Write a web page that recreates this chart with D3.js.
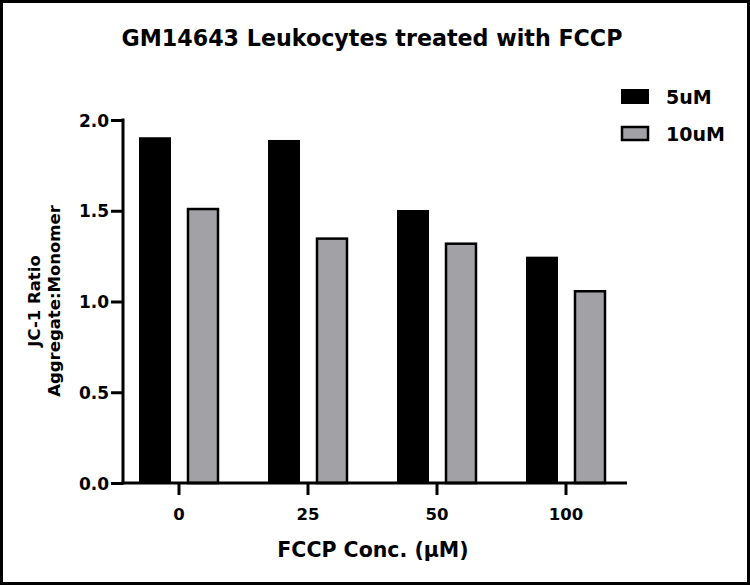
<!DOCTYPE html>
<html>
<head>
<meta charset="utf-8">
<script src="https://cdn.jsdelivr.net/npm/d3@7"></script>
<style>
  html, body { margin: 0; padding: 0; background: #fff; }
  svg { display: block; }
  text { font-family: "DejaVu Sans", sans-serif; fill: #000; }
</style>
</head>
<body>
<svg id="chart"></svg>
<script>
// GM14643 leukocytes, JC-1 aggregate:monomer ratio after FCCP treatment.
const concentrations = ['0', '25', '50', '100'];
const seriesNames = ['5uM', '10uM'];
const ratio5uM = [1.905, 1.89, 1.504, 1.247];
const ratio10uM = [1.515, 1.352, 1.324, 1.062];
const yTicks = [0, 0.5, 1.0, 1.5, 2.0];

const W = 750, H = 585;
const svg = d3.select('#chart').attr('width', W).attr('height', H);

// outer frame
svg.append('rect').attr('x', 1.5).attr('y', 1.5).attr('width', W - 3).attr('height', H - 3)
  .attr('fill', '#fff').attr('stroke', '#000').attr('stroke-width', 3);

const axisLeft = 123, axisRight = 627, axisBottom = 483, axisTop = 120;
const y = d3.scaleLinear().domain([0, 2]).range([axisBottom, axisTop]);
const x0 = d3.scaleBand().domain(concentrations).range([114.5, 630.5])
  .paddingInner(0.38).paddingOuter(0.19);
const x1 = d3.scaleBand().domain(seriesNames).range([0, x0.bandwidth()]).paddingInner(1 / 3);

const fills = { '5uM': '#000', '10uM': '#a2a2a6' };
const rows = concentrations.map((c, i) => ({ c, values: [
  { s: '5uM', v: ratio5uM[i] }, { s: '10uM', v: ratio10uM[i] }
] }));

// bars (grey ones get an inset black outline)
const g = svg.append('g');
g.selectAll('g.grp').data(rows).enter().append('g')
  .attr('transform', d => `translate(${x0(d.c)},0)`)
  .selectAll('rect').data(d => d.values).enter().append('rect')
  .attr('x', d => x1(d.s) + (d.s === '10uM' ? 1 : 0))
  .attr('y', d => y(d.v) + (d.s === '10uM' ? 1 : 0))
  .attr('width', d => x1.bandwidth() - (d.s === '10uM' ? 2 : 0))
  .attr('height', d => axisBottom - y(d.v) - (d.s === '10uM' ? 1 : 0))
  .attr('fill', d => fills[d.s])
  .attr('stroke', d => d.s === '10uM' ? '#000' : 'none')
  .attr('stroke-width', 2.5);

// y axis
const yAxis = svg.append('g').attr('transform', `translate(${axisLeft},0)`)
  .call(d3.axisLeft(y).tickValues(yTicks).tickFormat(d3.format('.1f')).tickSize(12).tickPadding(2));
yAxis.select('.domain').remove();
yAxis.append('line').attr('x1', 0).attr('x2', 0).attr('y1', axisTop - 1.5).attr('y2', axisBottom + 1.5)
  .attr('stroke', '#000').attr('stroke-width', 3);
yAxis.selectAll('.tick line').attr('stroke-width', 3);
yAxis.selectAll('.tick text').attr('font-size', 17).attr('font-weight', 'bold').attr('dy', '0.36em');

// x axis
const xAxis = svg.append('g').attr('transform', `translate(0,${axisBottom})`)
  .call(d3.axisBottom(x0).tickSize(12).tickPadding(13));
xAxis.select('.domain').remove();
xAxis.append('line').attr('x1', axisLeft - 1.5).attr('x2', axisRight).attr('y1', 0).attr('y2', 0)
  .attr('stroke', '#000').attr('stroke-width', 3);
xAxis.selectAll('.tick line').attr('stroke-width', 3);
xAxis.selectAll('.tick text').attr('font-size', 16.5).attr('font-weight', 'bold');

// title
svg.append('text').attr('x', 372).attr('y', 46).attr('text-anchor', 'middle')
  .attr('font-size', 22.2).attr('font-weight', 'bold')
  .text('GM14643 Leukocytes treated with FCCP');

// x axis title
svg.append('text').attr('x', 373).attr('y', 557).attr('text-anchor', 'middle')
  .attr('font-size', 20.5).attr('font-weight', 'bold')
  .text('FCCP Conc. (\u00b5M)');

// y axis title, two lines
const yTitle = svg.append('text').attr('transform', 'translate(0,301) rotate(-90)')
  .attr('text-anchor', 'middle').attr('font-size', 16.5).attr('font-weight', 'bold');
yTitle.append('tspan').attr('x', 0).attr('y', 40).text('JC-1 Ratio');
yTitle.append('tspan').attr('x', 0).attr('y', 60).text('Aggregate:Monomer');

// legend
const legend = svg.append('g').selectAll('g').data(seriesNames).enter().append('g')
  .attr('transform', (d, i) => `translate(621,${89 + i * 37})`);
legend.append('rect')
  .attr('x', d => d === '10uM' ? 1 : 0).attr('y', d => d === '10uM' ? 1 : 0)
  .attr('width', d => d === '10uM' ? 26 : 28).attr('height', d => d === '10uM' ? 13 : 15)
  .attr('fill', d => fills[d])
  .attr('stroke', d => d === '10uM' ? '#000' : 'none').attr('stroke-width', 2.5);
legend.append('text').attr('x', 45).attr('y', 15).attr('font-size', 19).attr('font-weight', 'bold')
  .text(d => d);
</script>
</body>
</html>
